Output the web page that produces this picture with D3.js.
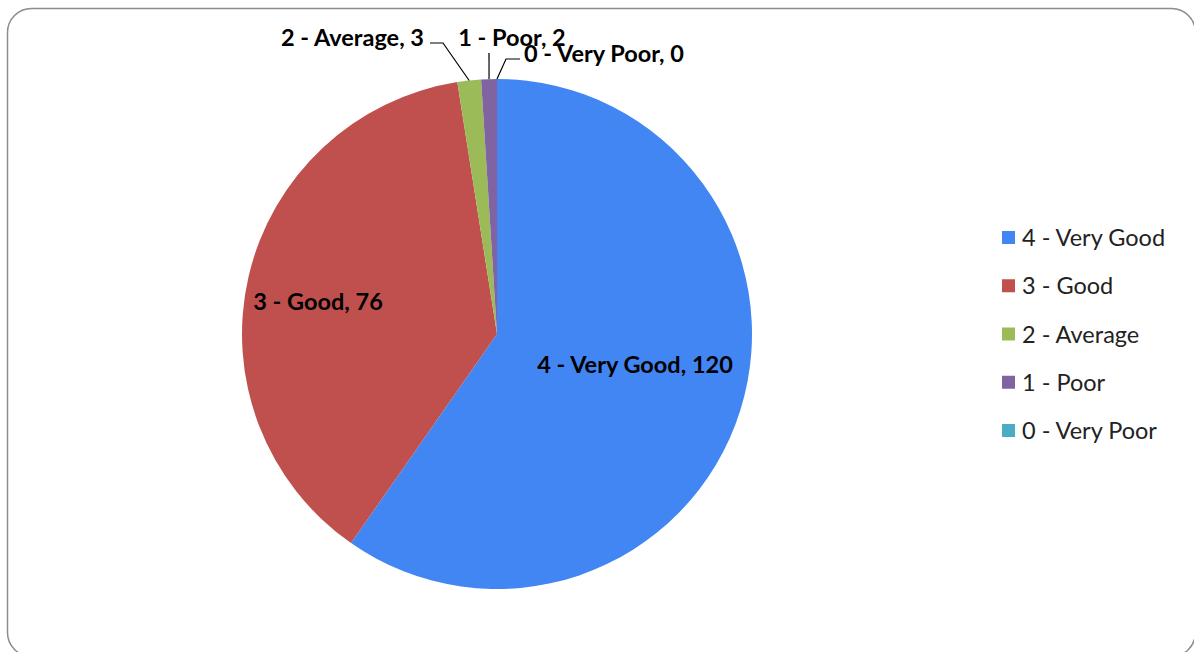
<!DOCTYPE html>
<html><head><meta charset="utf-8">
<script src="https://cdn.jsdelivr.net/npm/d3@7"></script>
<style>body{margin:0;background:#fff}svg{display:block}</style>
</head><body>
<svg id="c" width="1194" height="652"></svg>
<script>
const categories = ["4 - Very Good","3 - Good","2 - Average","1 - Poor","0 - Very Poor"];
const values = [120,76,3,2,0];
const colors = ["#4286F4","#C0504D","#9BBB59","#8064A2","#4BACC6"];

const svg = d3.select("#c");
svg.append("rect").attr("x",7.5).attr("y",8.5).attr("width",1188).attr("height",648)
  .attr("rx",24).attr("fill","#fff").attr("stroke","#8c8c8c").attr("stroke-width",1.5);

const cx = 497, cy = 334, R = 255;
const data = categories.map((c,i)=>({cat:c,val:values[i],col:colors[i]}));
const pie = d3.pie().sort(null).value(d=>d.val);
const arcs = pie(data);
const arc = d3.arc().innerRadius(0).outerRadius(R);
const g = svg.append("g").attr("transform",`translate(${cx},${cy})`);
g.selectAll("path").data(arcs).join("path").attr("d",arc).attr("fill",d=>d.data.col);

const font = "Lato, 'Open Sans', sans-serif";
const labelInside = [
  {i:0, x:635, y:364},
  {i:1, x:318, y:301}
];
const lab = svg.append("g").attr("font-family",font).attr("font-weight","bold").attr("font-size",23.5).attr("fill","#000");
lab.selectAll("text.in").data(labelInside).join("text").attr("class","in")
  .attr("x",d=>d.x).attr("y",d=>d.y).attr("text-anchor","middle").attr("dominant-baseline","central")
  .text(d=>`${categories[d.i]}, ${values[d.i]}`);

const outer = [
  {i:2, tx:424, ty:37, anchor:"end", pts:[[430,43],[443,43]]},
  {i:3, tx:512, ty:37, anchor:"middle", pts:[[489,53]]},
  {i:4, tx:524, ty:53, anchor:"start", pts:[[520,59],[506,59]]}
];
outer.forEach(o=>{
  const a = arcs[o.i];
  const mid = (a.startAngle+a.endAngle)/2;
  const ex = cx + R*Math.sin(mid), ey = cy - R*Math.cos(mid);
  const pts = o.pts.concat([[ex,ey]]);
  svg.append("path").attr("d",d3.line()(pts)).attr("fill","none").attr("stroke","#000").attr("stroke-width",1.2);
  lab.append("text").attr("x",o.tx).attr("y",o.ty).attr("text-anchor",o.anchor).attr("dominant-baseline","central")
    .text(`${categories[o.i]}, ${values[o.i]}`);
});

const leg = svg.append("g").attr("font-family",font).attr("font-size",23.5).attr("fill","#222");
const ly = d3.scalePoint().domain(categories).range([237,430]);
categories.forEach((c,i)=>{
  leg.append("rect").attr("x",1002).attr("y",ly(c)-6).attr("width",13).attr("height",13).attr("fill",colors[i]);
  leg.append("text").attr("x",1022).attr("y",ly(c)).attr("dominant-baseline","central").text(c);
});
</script>
</body></html>
